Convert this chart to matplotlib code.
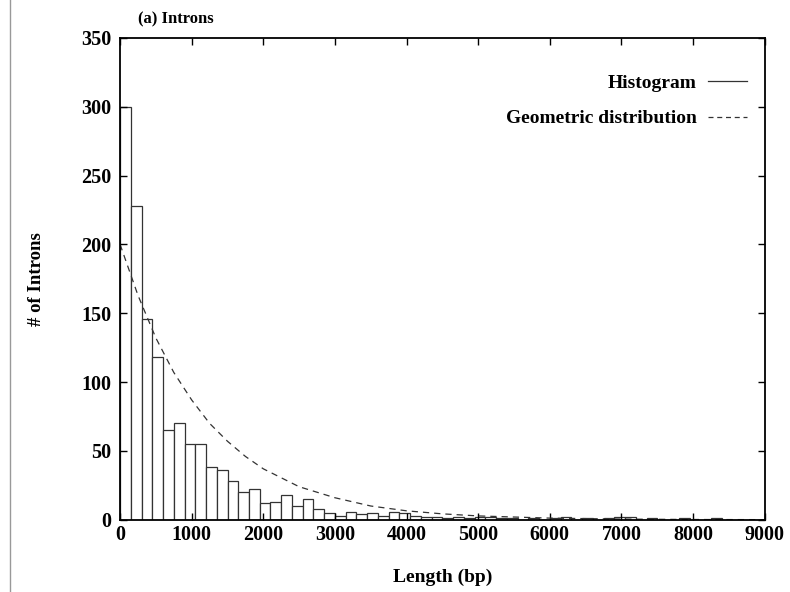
import numpy as np
import matplotlib
matplotlib.use('Agg')
import matplotlib.pyplot as plt
from matplotlib.lines import Line2D

# histogram of intron lengths, 150 bp bins
bin_width = 150
bin_starts = list(range(0, 9000, 150))
counts = [300, 228, 146, 118, 65, 70, 55, 55, 38, 36,
          28, 20, 22, 12, 13, 18, 10, 15, 8, 5,
          3, 6, 4, 5, 3, 6, 5, 3, 2, 2,
          1, 2, 1, 2, 2, 1, 1, 0, 1, 0,
          1, 2, 0, 1, 0, 1, 2, 2, 0, 1,
          0, 0, 1, 0, 0, 1, 0, 0, 0, 0]

# geometric distribution curve
geo_x = [0, 250, 500, 750, 1000, 1250, 1500, 1750, 2000, 2500,
         3000, 3500, 4000, 4500, 5000, 6000, 7000, 8000, 9000]
geo_y = [200, 163, 132, 107, 87, 70, 57, 46, 37, 24,
         16, 10, 6.5, 4.3, 2.8, 1.2, 0.5, 0.2, 0.1]

plt.rcParams['font.family'] = ['Liberation Serif', 'DejaVu Serif']
plt.rcParams['font.weight'] = 'bold'

fig = plt.figure(figsize=(7.9, 5.92), dpi=100)
ax = fig.add_axes([0.152, 0.122, 0.816, 0.814])

ax.bar(bin_starts, counts, width=bin_width, align='edge',
       facecolor='white', edgecolor='#333333', linewidth=0.9)
ax.plot(geo_x, geo_y, color='#333333', linestyle=(0, (5, 4)), linewidth=0.9)

ax.set_xlim(0, 9000)
ax.set_ylim(0, 350)
ax.set_xticks(range(0, 9001, 1000))
ax.set_yticks(range(0, 351, 50))
ax.tick_params(direction='in', top=True, right=True, length=5,
               labelsize=14.5, width=1.0)
ax.tick_params(axis='y', pad=6)
for lbl in ax.get_xticklabels() + ax.get_yticklabels():
    lbl.set_fontweight('bold')
for s in ax.spines.values():
    s.set_linewidth(1.3)

ax.set_xlabel('Length (bp)', fontsize=14, fontweight='bold', labelpad=17)
ax.set_ylabel('# of Introns', fontsize=13.5, fontweight='bold', labelpad=26)
ax.text(0.028, 1.022, '(a) Introns', transform=ax.transAxes,
        fontsize=12, fontweight='bold', va='bottom')

handles = [Line2D([], [], color='#333333', linewidth=0.9),
           Line2D([], [], color='#333333', linewidth=0.9, linestyle=(0, (4, 3)))]
ax.legend(handles, ['Histogram', 'Geometric distribution'], loc='upper right',
          frameon=False, markerfirst=False, handlelength=2.0, handletextpad=0.6,
          prop={'weight': 'bold', 'size': 14}, labelspacing=0.9,
          bbox_to_anchor=(1.0, 0.96))

# page border line on the left
fig.add_artist(Line2D([0.013, 0.013], [0.0, 1.0], color='#999999', linewidth=1.0))

fig.savefig('out.png', dpi=100)
